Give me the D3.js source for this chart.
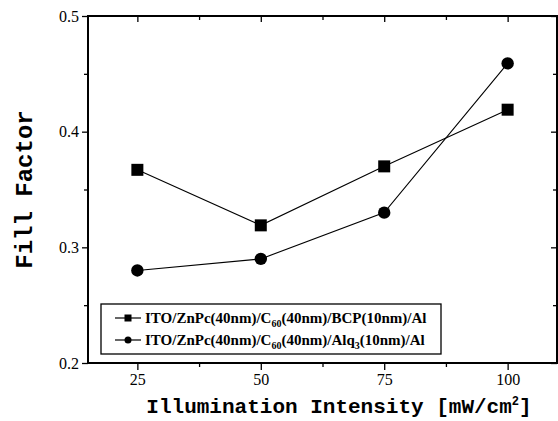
<!DOCTYPE html>
<html>
<head>
<meta charset="utf-8">
<script src="https://cdn.jsdelivr.net/npm/d3@7"></script>
<style>
  body { margin: 0; background: #fff; }
  svg { display: block; }
</style>
</head>
<body>
<svg width="558" height="421"></svg>
<script>
// данные графика
const intensity = [25, 50, 75, 100];
const ffBCP = [0.367, 0.319, 0.370, 0.419];
const ffAlq = [0.280, 0.290, 0.330, 0.459];
const xTicks = [25, 50, 75, 100];
const yTicks = [0.2, 0.3, 0.4, 0.5];

const svg = d3.select("svg");
const margin = { left: 88, right: 1, top: 16, bottom: 58 };
const width = +svg.attr("width");
const height = +svg.attr("height");

const x = d3.scaleLinear().domain([15, 110]).range([margin.left, width - margin.right]);
const y = d3.scaleLinear().domain([0.2, 0.5]).range([height - margin.bottom, margin.top]);

const serif = "'Liberation Serif', 'Times New Roman', serif";
const mono = "'Liberation Mono', 'Courier New', monospace";

// малые деления
const xMinor = d3.range(12.5, 110, 12.5).filter(v => !xTicks.includes(v) && v > 15);
const yMinor = [0.25, 0.35, 0.45];

// нижняя ось
svg.append("g")
    .attr("transform", `translate(0,${y(0.2)})`)
    .call(d3.axisBottom(x).tickValues(xTicks).tickSize(7).tickPadding(4).tickFormat(d3.format("d")));
svg.append("g")
    .attr("transform", `translate(0,${y(0.2)})`)
    .call(d3.axisBottom(x).tickValues(xMinor).tickSize(4).tickFormat(""));

// левая ось
svg.append("g")
    .attr("transform", `translate(${x(15)},0)`)
    .call(d3.axisLeft(y).tickValues(yTicks).tickSize(6).tickPadding(3).tickFormat(d3.format(".1f")));
svg.append("g")
    .attr("transform", `translate(${x(15)},0)`)
    .call(d3.axisLeft(y).tickValues(yMinor).tickSize(4).tickFormat(""));

// верхняя и правая оси - деления внутрь
svg.append("g")
    .attr("transform", `translate(0,${y(0.5)})`)
    .call(d3.axisBottom(x).tickValues(xTicks).tickSize(6).tickFormat(""));
svg.append("g")
    .attr("transform", `translate(0,${y(0.5)})`)
    .call(d3.axisBottom(x).tickValues(xMinor).tickSize(4).tickFormat(""));
svg.append("g")
    .attr("transform", `translate(${x(110)},0)`)
    .call(d3.axisLeft(y).tickValues(yTicks).tickSize(6).tickFormat(""));
svg.append("g")
    .attr("transform", `translate(${x(110)},0)`)
    .call(d3.axisLeft(y).tickValues(yMinor).tickSize(4).tickFormat(""));

svg.selectAll(".domain").remove();
svg.selectAll(".tick line").attr("stroke", "#000").attr("stroke-width", 1.3);
svg.selectAll(".tick text")
    .attr("fill", "#000")
    .style("font-family", serif)
    .style("font-size", "16px");

// рамка
svg.append("rect")
    .attr("x", x(15)).attr("y", y(0.5))
    .attr("width", x(110) - x(15)).attr("height", y(0.2) - y(0.5))
    .attr("fill", "none").attr("stroke", "#000").attr("stroke-width", 2);

// линии
const line = d3.line()
    .x((d, i) => x(intensity[i]))
    .y(d => y(d));

svg.append("path").attr("d", line(ffBCP))
    .attr("fill", "none").attr("stroke", "#000").attr("stroke-width", 1.1);
svg.append("path").attr("d", line(ffAlq))
    .attr("fill", "none").attr("stroke", "#000").attr("stroke-width", 1.1);

// маркеры
svg.selectAll(".sq").data(ffBCP).enter().append("rect")
    .attr("x", (d, i) => x(intensity[i]) - 6)
    .attr("y", d => y(d) - 6)
    .attr("width", 12).attr("height", 12)
    .attr("fill", "#000");
svg.selectAll(".ci").data(ffAlq).enter().append("circle")
    .attr("cx", (d, i) => x(intensity[i]))
    .attr("cy", d => y(d))
    .attr("r", 6.2)
    .attr("fill", "#000");

// легенда
const lg = svg.append("g");
lg.append("rect")
    .attr("x", 101).attr("y", 304).attr("width", 340).attr("height", 50)
    .attr("fill", "#fff").attr("stroke", "#000").attr("stroke-width", 1.3);

const legendRows = [
    { y: 318, mark: "square", parts: ["ITO/ZnPc(40nm)/C", "60", "(40nm)/BCP(10nm)/Al"] },
    { y: 340, mark: "circle", parts: ["ITO/ZnPc(40nm)/C", "60", "(40nm)/Alq", "3", "(10nm)/Al"] }
];
legendRows.forEach(r => {
    lg.append("line").attr("x1", 115).attr("x2", 141).attr("y1", r.y).attr("y2", r.y)
        .attr("stroke", "#000").attr("stroke-width", 1.2);
    if (r.mark === "square") {
        lg.append("rect").attr("x", 124.5).attr("y", r.y - 3.5).attr("width", 7).attr("height", 7).attr("fill", "#000");
    } else {
        lg.append("circle").attr("cx", 128).attr("cy", r.y).attr("r", 3.5).attr("fill", "#000");
    }
    const t = lg.append("text")
        .attr("x", 145).attr("y", r.y + 5)
        .style("font-family", serif).style("font-weight", "bold").style("font-size", "15px");
    r.parts.forEach((p, i) => {
        const sub = i % 2 === 1;
        t.append("tspan")
            .attr("dy", sub ? 4 : (i > 0 ? -4 : 0))
            .style("font-size", sub ? "10px" : "15px")
            .text(p);
    });
});

// подписи осей
svg.append("text")
    .attr("x", 339).attr("y", 413)
    .attr("text-anchor", "middle")
    .style("font-family", mono).style("font-size", "21px").style("font-weight", "bold")
    .html("Illumination Intensity [mW/cm<tspan dy='-8' font-size='12px'>2</tspan><tspan dy='8'>]</tspan>");

svg.append("text")
    .attr("transform", `translate(32,${(y(0.2) + y(0.5)) / 2}) rotate(-90)`)
    .attr("text-anchor", "middle")
    .style("font-family", mono).style("font-size", "24px").style("font-weight", "bold")
    .text("Fill Factor");
</script>
</body>
</html>
